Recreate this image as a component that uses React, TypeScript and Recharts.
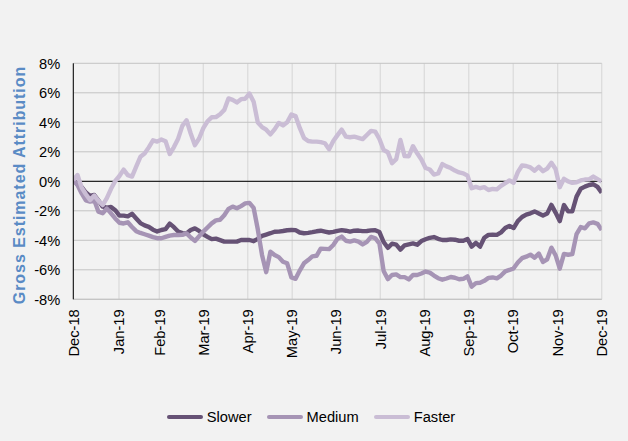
import React from 'react';
import { LineChart, Line, XAxis, YAxis, CartesianGrid, ReferenceLine, Legend } from 'recharts';

// Trading-day index of each sample (every second trading day, Dec-18 to Dec-19)
const STEP = 2;

const slower = [
  0.09, -0.2, -0.4, -0.76, -0.99, -0.93, -1.3, -1.72, -1.78, -1.74,
  -1.96, -2.32, -2.33, -2.38, -2.2, -2.52, -2.83, -2.99, -3.09, -3.28,
  -3.4, -3.3, -3.24, -2.87, -3.11, -3.4, -3.51, -3.53, -3.3, -3.19,
  -3.36, -3.6, -3.77, -3.92, -3.89, -3.99, -4.09, -4.09, -4.09, -4.09,
  -3.98, -3.98, -3.98, -4.06, -3.9, -3.7, -3.61, -3.52, -3.42, -3.41,
  -3.37, -3.32, -3.3, -3.31, -3.47, -3.52, -3.5, -3.45, -3.39, -3.35,
  -3.41, -3.47, -3.43, -3.36, -3.31, -3.35, -3.41, -3.35, -3.34, -3.38,
  -3.37, -3.33, -3.32, -3.44, -4.12, -4.51, -4.23, -4.29, -4.63, -4.34,
  -4.27, -4.21, -4.3, -4.05, -3.93, -3.83, -3.78, -3.9, -3.98, -3.98,
  -3.94, -3.96, -4.03, -4.03, -3.91, -4.43, -4.17, -4.43, -3.83, -3.63,
  -3.62, -3.63, -3.46, -3.17, -3.02, -3.17, -2.7, -2.42, -2.26, -2.17,
  -2.04, -2.18, -2.32, -2.19, -1.6, -2.12, -2.7, -1.61, -2.04, -2.03,
  -1.04, -0.5, -0.36, -0.25, -0.2, -0.38, -0.77,
];

const medium = [
  0.09, -0.25, -0.82, -1.29, -1.38, -1.29, -2.06, -2.16, -1.85, -2.17,
  -2.52, -2.81, -2.86, -2.78, -3.1, -3.38, -3.5, -3.59, -3.68, -3.78,
  -3.86, -3.86, -3.77, -3.68, -3.64, -3.64, -3.63, -3.53, -3.81, -4.04,
  -3.73, -3.41, -3.13, -2.85, -2.65, -2.61, -2.3, -1.87, -1.72, -1.83,
  -1.68, -1.5, -1.46, -1.8, -3.27, -4.99, -6.16, -4.77, -5.0, -5.14,
  -5.45, -5.56, -6.52, -6.61, -6.05, -5.56, -5.34, -5.09, -5.05, -4.57,
  -4.58, -4.6, -4.32, -3.9, -3.75, -4.03, -4.09, -4.01, -4.09, -4.28,
  -4.11, -3.77, -3.86, -4.22, -6.08, -6.63, -6.35, -6.31, -6.49, -6.5,
  -6.65, -6.35, -6.35, -6.25, -6.12, -6.19, -6.39, -6.57, -6.67, -6.59,
  -6.49, -6.54, -6.64, -6.61, -6.44, -7.14, -6.9, -6.88, -6.75, -6.55,
  -6.52, -6.58, -6.39, -6.11, -6.01, -5.9, -5.51, -5.21, -5.11, -4.97,
  -5.18, -4.9, -5.47, -5.29, -4.5, -5.01, -5.92, -4.92, -4.98, -4.93,
  -3.58, -3.1, -3.19, -2.85, -2.79, -2.88, -3.3,
];

const faster = [
  0.09, 0.43, -0.43, -0.88, -1.27, -0.97, -1.33, -1.61, -1.14, -0.51,
  0.02, 0.36, 0.79, 0.42, 0.32, 0.99, 1.66, 1.88, 2.3, 2.78,
  2.69, 2.83, 2.72, 1.85, 2.32, 2.89, 3.76, 4.14, 3.24, 2.45,
  2.9, 3.6, 4.07, 4.34, 4.35, 4.55, 4.84, 5.62, 5.52, 5.35,
  5.57, 5.6, 5.95, 5.4, 3.98, 3.68, 3.5, 3.18, 3.52, 3.95,
  3.79, 4.0, 4.53, 4.42, 3.62, 2.94, 2.73, 2.69, 2.69, 2.66,
  2.58, 2.17, 2.73, 3.13, 3.5, 3.03, 2.99, 3.03, 2.95, 2.86,
  3.14, 3.42, 3.37, 2.87, 2.12, 1.97, 1.22, 1.5, 2.8, 1.71,
  1.7, 2.38, 1.9, 1.48, 0.9, 0.8, 0.46, 0.53, 1.17, 1.01,
  0.9, 0.73, 0.6, 0.54, 0.38, -0.47, -0.38, -0.47, -0.4, -0.59,
  -0.52, -0.55, -0.31, -0.13, 0.06, -0.1, 0.62, 1.07, 1.04, 0.94,
  0.72, 0.98, 0.69, 0.86, 1.26, 0.84, -0.4, 0.17, -0.01, -0.11,
  -0.07, 0.06, 0.12, 0.13, 0.32, 0.15, -0.02,
];

// Month-start positions on the trading-day axis and their labels
const monthTicks = [0, 21.8, 41, 62, 83.2, 104.4, 125.1, 146.4, 167.4, 188.6, 209.8, 231, 252];
const monthLabels = [
  'Dec-18', 'Jan-19', 'Feb-19', 'Mar-19', 'Apr-19', 'May-19', 'Jun-19',
  'Jul-19', 'Aug-19', 'Sep-19', 'Oct-19', 'Nov-19', 'Dec-19',
];

const yTicks = [-8, -6, -4, -2, 0, 2, 4, 6, 8];

const seriesNames = ['Slower', 'Medium', 'Faster'];
const seriesColors = ['#665275', '#a694b5', '#cabdd5'];

const rows = slower.map((_, i) => ({
  t: i * STEP,
  Slower: slower[i],
  Medium: medium[i],
  Faster: faster[i],
}));

const FONT = '"Liberation Sans", Arial, sans-serif';

const MonthTick = (props: any) => {
  const { x, y, payload } = props;
  const idx = monthTicks.indexOf(payload.value);
  const ty = y + 2;
  return (
    <text
      x={x}
      y={ty}
      transform={`rotate(-90, ${x}, ${ty})`}
      textAnchor="end"
      dy="0.36em"
      fontSize={14.67}
      fontFamily={FONT}
      fill="#000"
    >
      {monthLabels[idx]}
    </text>
  );
};

const LegendContent = () => (
  <div
    style={{
      display: 'flex',
      justifyContent: 'center',
      alignItems: 'center',
      height: 24,
      paddingRight: 6,
      fontFamily: FONT,
      fontSize: 14.67,
      color: '#000',
    }}
  >
    {seriesNames.map((name, i) => (
      <div key={name} style={{ display: 'flex', alignItems: 'center', marginRight: i < 2 ? 15 : 0 }}>
        <svg width={36} height={6} style={{ marginRight: 4 }}>
          <line x1={2} y1={3} x2={34} y2={3} stroke={seriesColors[i]} strokeWidth={4} strokeLinecap="round" />
        </svg>
        <span>{name}</span>
      </div>
    ))}
  </div>
);

const AxisTitle = () => (
  <text
    x={19.5}
    y={185}
    transform="rotate(-90, 19.5, 185)"
    textAnchor="middle"
    dy="0.36em"
    fontSize={16}
    fontWeight="bold"
    letterSpacing={0.95}
    fontFamily={FONT}
    fill="#5a8bc5"
  >
    Gross Estimated Attribution
  </text>
);

export default function App() {
  return (
    <div
      style={{
        position: 'fixed',
        left: 0,
        top: 0,
        width: 628,
        height: 441,
        background: '#f2f2f2',
      }}
    >
      <LineChart
        width={628}
        height={441}
        data={rows}
        margin={{ top: 63.3, right: 26.3, left: 0, bottom: 0 }}
      >
        <CartesianGrid horizontal={false} vertical stroke="#dcdcdc" strokeWidth={1.3} />
        <CartesianGrid vertical={false} horizontal stroke="#c4c4c4" strokeWidth={1} />
        <XAxis
          dataKey="t"
          type="number"
          domain={[0, 252]}
          ticks={monthTicks}
          interval={0}
          tick={<MonthTick />}
          tickLine={false}
          axisLine={{ stroke: '#c4c4c4' }}
          height={117.7}
          allowDataOverflow
        />
        <YAxis
          type="number"
          domain={[-8, 8]}
          ticks={yTicks}
          interval={0}
          width={73.3}
          tickLine={false}
          tickMargin={7}
          tickFormatter={(v: number) => `${v}%`}
          tick={{ fontSize: 14.67, fontFamily: FONT, fill: '#000' }}
          axisLine={{ stroke: '#000' }}
          label={<AxisTitle />}
        />
        <ReferenceLine y={0} stroke="#000" strokeWidth={1} />
        {seriesNames.map((name, i) => (
          <Line
            key={name}
            dataKey={name}
            type="linear"
            stroke={seriesColors[i]}
            strokeWidth={4.4}
            strokeLinejoin="round"
            dot={false}
            activeDot={false}
            isAnimationActive={false}
          />
        ))}
        <Legend
          content={<LegendContent />}
          wrapperStyle={{ position: 'absolute', left: 0, top: 405, width: 628, height: 24 }}
        />
      </LineChart>
    </div>
  );
}
